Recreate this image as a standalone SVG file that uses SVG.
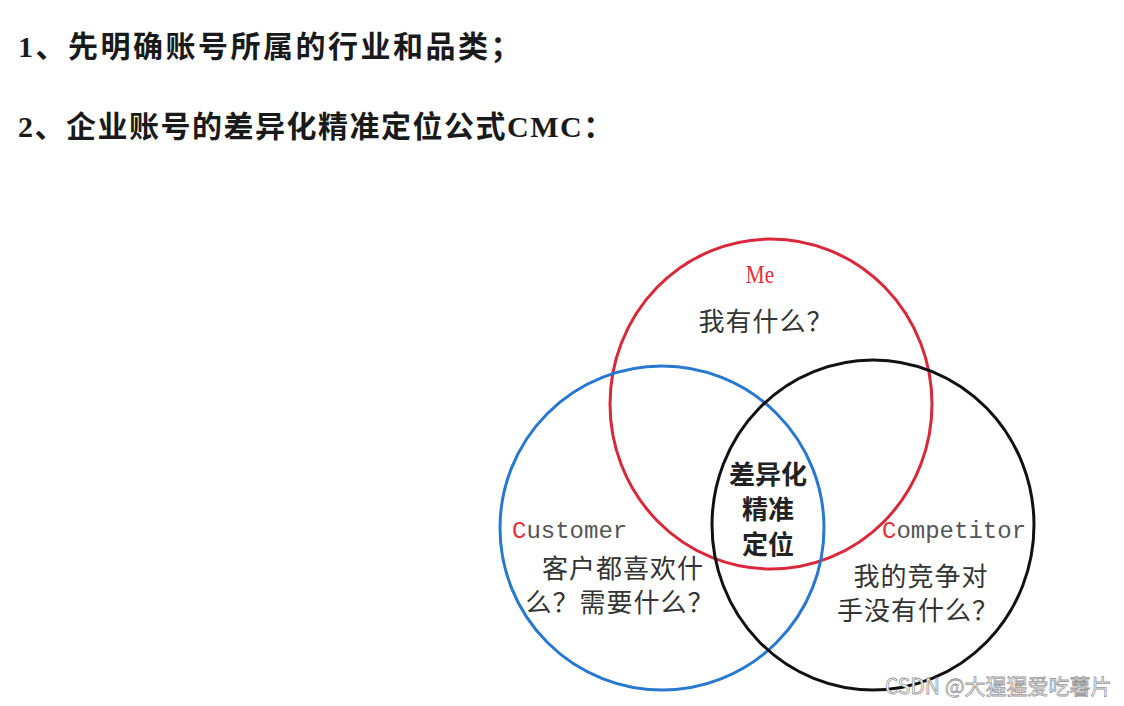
<svg xmlns="http://www.w3.org/2000/svg" width="1124" height="706" viewBox="0 0 1124 706">
<style>
.h{font-family:"Liberation Serif","Noto Sans CJK SC",serif;font-size:30px;font-weight:bold;fill:#1a1a1a;letter-spacing:1.5px}
.t{font-family:"Liberation Serif","Noto Sans CJK SC",serif;font-size:26px;fill:#333;text-anchor:middle;letter-spacing:1px}
.c{font-family:"Noto Sans CJK SC",sans-serif;font-size:26px;font-weight:bold;fill:#222;text-anchor:middle}
.m{font-family:"Liberation Mono",monospace;font-size:24px;fill:#555}
.r{fill:#e0303a}
.ring{fill:none;stroke-width:3}
</style>
<rect width="1124" height="706" fill="#fff"/>
<text class="h" x="18" y="57" style="letter-spacing:2.5px">1、先明确账号所属的行业和品类；</text>
<text class="h" x="18" y="137">2、企业账号的差异化精准定位公式CMC：</text>
<g id="connectors"></g>
<g id="me">
<ellipse class="ring" cx="771" cy="404" rx="161" ry="165" stroke="#d8283a"/>
<text x="760" y="283" text-anchor="middle" font-family="Liberation Serif,serif" font-size="25" fill="#e0303a" transform="translate(760 0) scale(0.85 1) translate(-760 0)">Me</text>
<text class="t" x="766" y="331">我有什么？</text>
</g>
<g id="customer">
<ellipse class="ring" cx="662" cy="528" rx="162" ry="162" stroke="#2878d0"/>
<text class="m" x="512" y="538"><tspan class="r">C</tspan>ustomer</text>
<text class="t" x="623" y="578">客户都喜欢什</text>
<text class="t" x="620" y="612">么？需要什么？</text>
</g>
<g id="competitor">
<ellipse class="ring" cx="873" cy="525" rx="161" ry="165" stroke="#111"/>
<text class="m" x="882" y="538"><tspan class="r">C</tspan>ompetitor</text>
<text class="t" x="921" y="586">我的竞争对</text>
<text class="t" x="918" y="620">手没有什么？</text>
</g>
<g id="center">
<text class="c" x="768" y="484">差异化</text>
<text class="c" x="768" y="519">精准</text>
<text class="c" x="768" y="554">定位</text>
</g>
<text x="885" y="694" font-family="Noto Sans CJK SC,sans-serif" font-size="21" fill="#fff" stroke="#999" stroke-width="0.8">CSDN @大猩猩爱吃薯片</text>
</svg>
